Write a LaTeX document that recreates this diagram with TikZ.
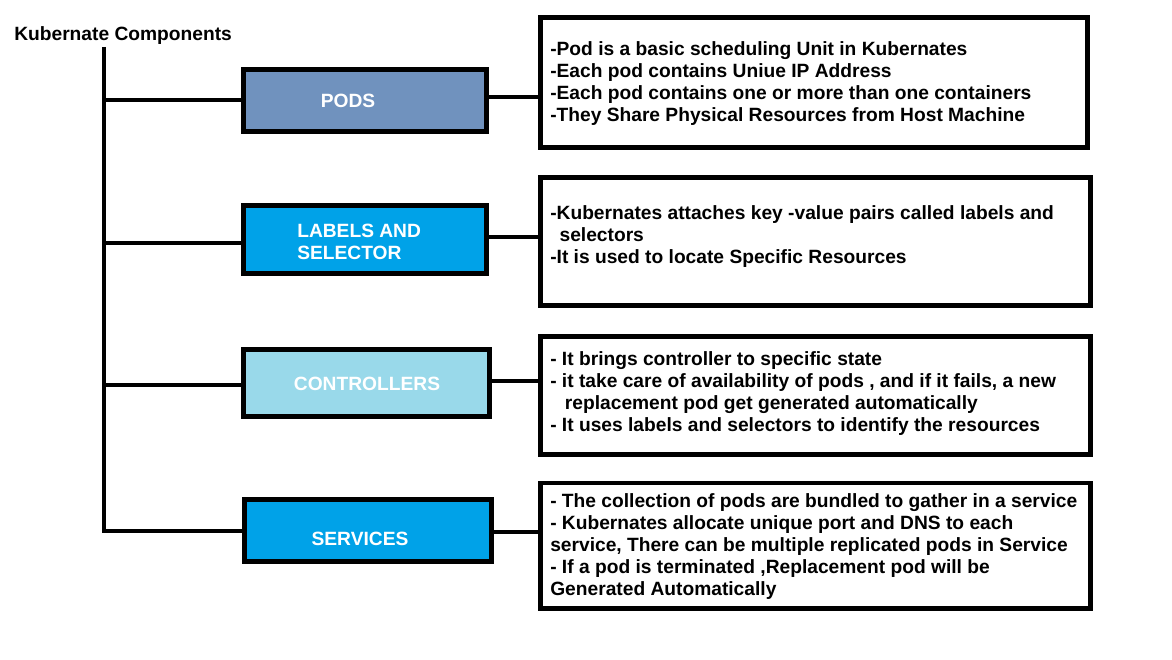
\documentclass[tikz,border=0pt]{standalone}
\usepackage{fontspec}
\setmainfont{Liberation Sans}
\begin{document}
\begin{tikzpicture}[x=0.75pt,y=-0.75pt,
  every node/.style={font=\fontsize{14.4}{16.5}\selectfont\bfseries},
  compbox/.style={draw=black,line width=3.5pt,inner sep=0pt},
  descbox/.style={draw=black,line width=3.5pt,fill=white,inner sep=0pt},
  lbl/.style={text=white,inner sep=0pt,align=left},
  desc/.style={inner sep=0pt,align=left,anchor=west,text=black},
  conn/.style={line width=3pt}]
\useasboundingbox (0,0) rectangle (1172,660);
\definecolor{podsblue}{RGB}{112,146,190}
\definecolor{brightblue}{RGB}{0,162,232}
\definecolor{lightblue}{RGB}{153,217,234}

\node[anchor=west,inner sep=0pt] (title) at (14,36) {Kubernate Components};

% component boxes
\node[compbox,fill=podsblue,minimum width=182.5pt,minimum height=46.7pt] (pods) at (365,100.5) {};
\node[compbox,fill=brightblue,minimum width=182.5pt,minimum height=51.2pt] (labels) at (365,239.5) {};
\node[compbox,fill=lightblue,minimum width=184.7pt,minimum height=50.5pt] (ctrl) at (366.5,383) {};
\node[compbox,fill=brightblue,minimum width=185.5pt,minimum height=46.7pt] (serv) at (368,530.5) {};

\node[lbl] (podslbl) at (348,101) {PODS};
\node[lbl,anchor=west] (labelslbl) at (297,242) {LABELS AND\\SELECTOR};
\node[lbl] (ctrllbl) at (367,384) {CONTROLLERS};
\node[lbl] (servlbl) at (360,539) {SERVICES};

% description boxes
\node[descbox,minimum width=410.5pt,minimum height=97.7pt] (d1) at (814,82.5) {};
\node[descbox,minimum width=412.7pt,minimum height=96.2pt] (d2) at (815.5,241.5) {};
\node[descbox,minimum width=412.7pt,minimum height=88.7pt] (d3) at (815.5,395.5) {};
\node[descbox,minimum width=412.7pt,minimum height=94pt] (d4) at (815.5,545.5) {};

\node[desc] (t1) at (550,84) {-Pod is a basic scheduling Unit in Kubernates\\
-Each pod contains Uniue IP Address\\
-Each pod contains one or more than one containers\\
-They Share Physical Resources from Host Machine};
\node[desc] (t2) at (550,237) {-Kubernates attaches key -value pairs called labels and\\
\hspace*{7pt}selectors\\
-It is used to locate Specific Resources};
\node[desc] (t3) at (550,394) {- It brings controller to specific state\\
- it take care of availability of pods , and if it fails, a new\\
\hspace*{11pt}replacement pod get generated automatically\\
- It uses labels and selectors to identify the resources};
\node[desc] (t4) at (550,547) {- The collection of pods are bundled to gather in a service\\
- Kubernates allocate unique port and DNS to each\\
service, There can be multiple replicated pods in Service\\
- If a pod is terminated ,Replacement pod will be\\
Generated Automatically};

% spine and branches
\coordinate (top) at (104,47);
\draw[conn] (top) -- (top |- serv.west) -- (serv.west);
\draw[conn] (top |- pods.west) -- (pods.west);
\draw[conn] ([yshift=-2.6pt]top |- labels.west) -- ([yshift=-2.6pt]labels.west);
\draw[conn] ([yshift=-1.5pt]top |- ctrl.west) -- ([yshift=-1.5pt]ctrl.west);

% right connectors
\draw[conn] ([yshift=2.6pt]pods.east) -- ([yshift=2.6pt]pods.east -| d1.west);
\draw[conn] ([yshift=1.9pt]labels.east) -- ([yshift=1.9pt]labels.east -| d2.west);
\draw[conn] ([yshift=1.5pt]ctrl.east) -- ([yshift=1.5pt]ctrl.east -| d3.west);
\draw[conn] ([yshift=-1.1pt]serv.east) -- ([yshift=-1.1pt]serv.east -| d4.west);
\end{tikzpicture}
\end{document}
